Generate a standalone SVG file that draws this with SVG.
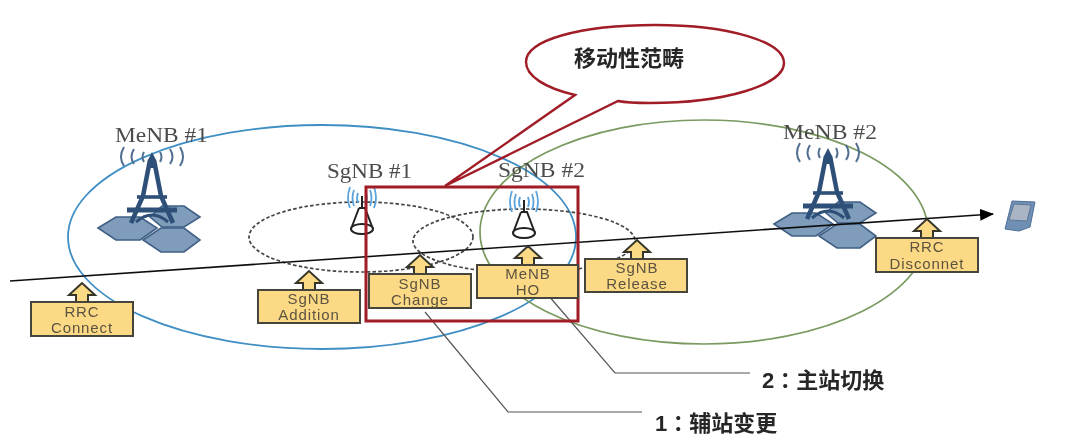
<svg xmlns="http://www.w3.org/2000/svg" width="1080" height="440" viewBox="0 0 1080 440">
<style>
.lbl{font-family:"Liberation Serif",serif;font-size:20px;fill:#4c4c4c}
.box rect{fill:#fcd985;stroke:#45453a;stroke-width:2}
.box path{fill:#fcd985;stroke:#35352c;stroke-width:2}
.box text{font-family:"Liberation Sans",sans-serif;font-size:15px;letter-spacing:.9px;fill:#5b5340;text-anchor:middle}
.zh{font-family:"Liberation Sans","Noto Sans CJK SC",sans-serif;font-weight:700;font-size:22px;fill:#262626}
.col{font-family:"Noto Sans CJK TC",sans-serif}
.dash{fill:none;stroke:#444;stroke-width:1.7;stroke-dasharray:3.5 2.2}
.hex{fill:#7f9dbb;stroke:#3f5f85;stroke-width:1.6}
.wave{fill:none;stroke:#4f6e90;stroke-width:2}
.wave2{fill:none;stroke:#5aa2dc;stroke-width:1.8}
.lead{fill:none;stroke:#555;stroke-width:1.2}
</style>
<defs>
<filter id="soft" filterUnits="userSpaceOnUse" x="0" y="0" width="1080" height="440"><feGaussianBlur stdDeviation="0.45"/></filter>
<marker id="ah" markerUnits="userSpaceOnUse" markerWidth="14" markerHeight="12" refX="13" refY="6" orient="auto"><path d="M0 0L14 6L0 12Z" fill="#000"/></marker>
<g id="tower">
<path class="hex" d="M-2 21L10 10H32L48 21L32 31H10Z"/>
<path class="hex" d="M-54 32L-36 21H-12L5 32L-12 44H-36Z"/>
<path class="hex" d="M-9 44L9 32H32L48 44L32 56H9Z"/>
<path fill="none" stroke="#2f5077" stroke-width="4.5" d="M-2 -36L-9 0L-21 27M2 -36L9 0L21 27"/>
<path fill="none" stroke="#2f5077" stroke-width="3.6" d="M-15 1H15"/>
<path fill="none" stroke="#2f5077" stroke-width="5" d="M-25 14H25"/>
<path fill="none" stroke="#2f5077" stroke-width="3" d="M-16 26Q0 12 16 26"/>
<path d="M-4 -36L0 -44L4 -36V-28H-4Z" fill="#2f5077"/>
<path class="wave" d="M-8 -44Q-11 -39 -8 -34M8 -44Q11 -39 8 -34M-18 -47Q-23 -39 -18 -32M18 -47Q23 -39 18 -32M-28 -49Q-34 -39 -28 -30M28 -49Q34 -39 28 -30"/>
</g>
<g id="small">
<path class="wave2" d="M-4 -25Q-6 -20 -4 -15M4 -25Q6 -20 4 -15M-8 -28Q-11 -20 -8 -12M8 -28Q11 -20 8 -12M-12 -31Q-16 -20 -12 -10M12 -31Q16 -20 12 -10"/>
<path fill="none" stroke="#222" stroke-width="2" d="M0 -22V-11M-3 -10H3L11 11M-3 -10L-11 11"/>
<ellipse cx="0" cy="11" rx="11" ry="5" fill="#fff" stroke="#222" stroke-width="2"/>
</g>
</defs>
<rect width="1080" height="440" fill="#fff"/>
<g filter="url(#soft)">
<g id="coverage">
<ellipse cx="322" cy="237" rx="254" ry="112" fill="none" stroke="#3f8fc4" stroke-width="1.8"/>
<ellipse cx="704" cy="232" rx="224" ry="112" fill="none" stroke="#7a9a60" stroke-width="1.7"/>
<ellipse class="dash" cx="361" cy="237" rx="112" ry="35"/>
<ellipse class="dash" cx="524" cy="241" rx="111" ry="32"/>
</g>
<g id="menb1"><use href="#tower" x="152" y="196"/><text class="lbl" x="115" y="142" textLength="93" lengthAdjust="spacingAndGlyphs">MeNB #1</text></g>
<g id="menb2"><use href="#tower" x="828" y="192"/><text class="lbl" x="783" y="139" textLength="94" lengthAdjust="spacingAndGlyphs">MeNB #2</text></g>
<g id="sgnb1"><use href="#small" x="362" y="218"/><text class="lbl" x="327" y="178" textLength="85" lengthAdjust="spacingAndGlyphs">SgNB #1</text></g>
<g id="sgnb2"><use href="#small" x="524" y="222"/><text class="lbl" x="498" y="177" textLength="87" lengthAdjust="spacingAndGlyphs">SgNB #2</text></g>
<g id="connectors">
<path d="M10 281L993 214" fill="none" stroke="#111" stroke-width="1.6" marker-end="url(#ah)"/>
<path class="lead" d="M425 312L508 412H642"/>
<path class="lead" d="M548 295L615 373H750"/>
</g>
<g id="mobility-frame"><rect x="366" y="187" width="212" height="134" fill="none" stroke="#a01c26" stroke-width="3"/></g>
<g id="callout"><path d="M575 95C545 88 526 76 526 62C526 40 580 25 655 25C730 25 784 42 784 63C784 85 725 103 650 103C638 103 628 103 618 101L445 186Z" fill="none" stroke="#a01c26" stroke-width="2.4"/><text class="zh" x="574" y="66">移动性范畴</text></g>
<g id="rrc-connect" class="box"><path d="M76 302V295H69L82 283L95 295H88V302Z"/><rect x="31" y="302" width="102" height="34"/><text x="82" y="317">RRC</text><text x="82" y="333">Connect</text></g>
<g id="sgnb-addition" class="box"><path d="M303 290V283H296L309 271L322 283H315V290Z"/><rect x="258" y="290" width="102" height="33"/><text x="309" y="304">SgNB</text><text x="309" y="320">Addition</text></g>
<g id="sgnb-change" class="box"><path d="M414 274V267H407L420 255L433 267H426V274Z"/><rect x="369" y="274" width="102" height="34"/><text x="420" y="289">SgNB</text><text x="420" y="305">Change</text></g>
<g id="menb-ho" class="box"><path d="M522 265V258H515L528 246L541 258H534V265Z"/><rect x="477" y="265" width="101" height="33"/><text x="528" y="279">MeNB</text><text x="528" y="295">HO</text></g>
<g id="sgnb-release" class="box"><path d="M631 259V252H624L637 240L650 252H643V259Z"/><rect x="585" y="259" width="102" height="33"/><text x="637" y="273">SgNB</text><text x="637" y="289">Release</text></g>
<g id="rrc-disconnet" class="box"><path d="M921 238V231H914L927 219L940 231H933V238Z"/><rect x="876" y="238" width="102" height="34"/><text x="927" y="252">RRC</text><text x="927" y="269">Disconnet</text></g>
<g id="ue"><path d="M1012 201L1035 202L1030 227L1019 231L1005 229Z" fill="#6f8fb5" stroke="#4f6f98"/><path d="M1014 204L1031 205L1027 221L1009 220Z" fill="#a9b5c4" stroke="#5f7896"/></g>
<text id="label-2" class="zh" x="762" y="388">2<tspan class="col">：</tspan>主站切换</text>
<text id="label-1" class="zh" x="655" y="431">1<tspan class="col">：</tspan>辅站变更</text>
</g>
</svg>
